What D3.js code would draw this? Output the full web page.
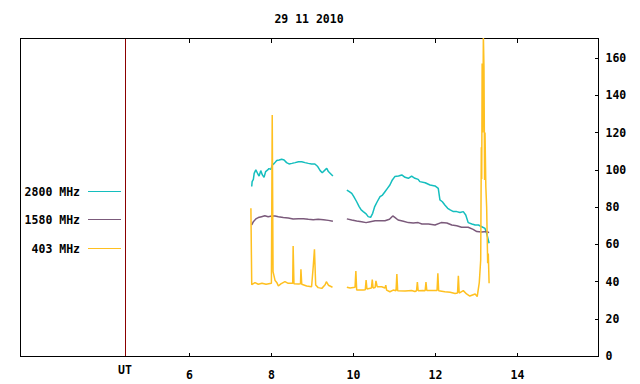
<!DOCTYPE html>
<html>
<head>
<meta charset="utf-8">
<script src="https://cdn.jsdelivr.net/npm/d3@7"></script>
<style>
  body { margin: 0; background: #fff; }
  text { font-family: "DejaVu Sans Mono", "Liberation Mono", monospace; font-weight: bold; font-size: 11.5px; fill: #000; }
</style>
</head>
<body>
<script>
// Chart data (time in UT hours)
const title = "29 11 2010";
const seriesNames = ["2800 MHz", "1580 MHz", "403 MHz"];
const xTicks = [6, 8, 10, 12, 14];
const yTicks = [0, 20, 40, 60, 80, 100, 120, 140, 160];
const utMark = 4.44;

// 2800 MHz
const t2800 = [7.53,7.54,7.57,7.59,7.63,7.68,7.71,7.75,7.79,7.83,7.87,7.92,7.95,8.00,8.03,8.08,8.14,8.20,8.26,8.32,8.38,8.44,8.51,8.59,8.67,8.75,8.83,8.91,8.99,9.07,9.14,9.20,9.25,9.32,9.36,9.40,9.46,9.51,
  9.68,
  9.85,9.91,9.97,10.02,10.09,10.15,10.20,10.25,10.32,10.37,10.43,10.48,10.53,10.59,10.66,10.72,10.78,10.84,10.90,10.96,11.02,11.11,11.19,11.27,11.35,11.43,11.51,11.59,11.63,11.76,11.88,12.00,12.08,12.12,12.18,12.24,12.31,12.37,12.45,12.53,12.61,12.69,12.75,12.81,12.90,12.98,13.06,13.14,13.22,13.26,13.30,13.32];
const v2800 = [91,93.6,94.8,98,99.9,97.7,96.6,99.5,97.2,95.9,99,99.9,100.6,100.2,102.5,103.4,104.9,105.2,105.6,105.2,103.8,103.1,103.4,103.8,104.3,104.3,103.8,103.4,103.1,103.1,101.7,99.5,98.4,99.9,100.8,99,97.7,96.6,
  null,
  89.1,88.2,87.3,85.5,82.8,80.2,78.4,77.5,76.3,74.8,74.4,76.6,80.2,82.8,85.5,86.4,88.2,90,91.8,94.5,96.3,96.6,97.2,95.9,95.4,96.6,95.4,94.8,93.6,93,91.8,91.3,90,83.8,82.8,81.1,79.3,78.4,77.5,77.5,77,77.5,75.7,71.6,70.9,70.3,70.3,69.4,68.5,65.9,62.3,60.5];

// 1580 MHz
const t1580 = [7.53,7.57,7.63,7.69,7.77,7.85,7.93,8.02,8.10,8.18,8.30,8.42,8.54,8.67,8.79,8.91,9.03,9.15,9.28,9.40,9.51,
  9.68,
  9.85,9.97,10.09,10.21,10.32,10.42,10.54,10.66,10.78,10.89,10.97,11.02,11.10,11.23,11.35,11.47,11.59,11.68,11.84,12.00,12.15,12.29,12.41,12.53,12.65,12.81,12.93,13.02,13.14,13.26,13.32];
const v1580 = [70.3,72.1,73.6,74.3,74.8,75.3,74.8,75.2,75.2,74.8,74.4,74.1,73.6,73.7,73.7,73.4,73.2,73.4,73.2,72.8,72.3,
  null,
  73.6,73,72.5,72.1,71.6,72.1,72.6,72.6,72.6,73.4,75.2,74.4,73,72.3,71.6,71.4,71.6,70.9,70.8,70.3,71.6,71.4,70.3,69.9,69.1,69.1,68,66.8,66.6,66.8,66.2];

// 403 MHz
const t403 = [7.51,7.53,7.61,7.69,7.78,7.88,8.01,8.03,8.05,8.10,8.14,8.18,8.24,8.34,8.42,8.53,8.54,8.56,8.67,8.72,8.73,8.75,8.87,8.99,9.03,9.06,9.09,9.15,9.24,9.32,9.35,9.40,9.50,
  9.68,
  9.85,9.93,10.05,10.07,10.09,10.25,10.30,10.32,10.34,10.45,10.47,10.49,10.54,10.56,10.59,10.70,10.78,10.80,10.82,10.90,10.98,11.05,11.07,11.09,11.27,11.43,11.51,11.55,11.57,11.59,11.70,11.76,11.78,11.80,11.96,12.05,12.07,12.09,12.24,12.37,12.49,12.55,12.57,12.59,12.69,12.77,12.85,12.98,13.03,13.08,13.115,13.13,13.14,13.15,13.165,13.18,13.195,13.21,13.22,13.24,13.26,13.285,13.30,13.32];
const v403 = [79.3,38.3,39.4,38.5,39,38.5,39,129.4,45.3,40.5,39.5,37.6,38.7,39.9,39,39,59,38.8,38.6,38.8,46.6,38.5,37.6,37.2,48,57.3,38.1,36.7,36.3,38.2,39.9,38,36.9,
  null,
  36.9,36.5,36.9,45.6,35.4,35.4,35.6,40.8,36,36.5,41,36.5,36.8,40.3,37.2,37.2,36.5,38,35.4,34.5,35.4,35,44,35,34.9,35.2,34.6,35,39.7,35,35.2,35,39.7,35.2,35.2,35.2,44.4,35,34.5,34.2,33.6,33.8,43,33.8,35.1,33.3,32.2,33.3,31.9,39.4,51.5,112,95,157,120,172,155,94.5,120,91,80,49.8,55,39];

const colors = ["#14bebe", "#7b5a7b", "#ffc020"];

// Layout
const W = 640, H = 384;
const mLeft = 20, mRight = 598, mTop = 38, mBottom = 356;

const x = d3.scaleLinear().domain([1.878, 15.976]).range([mLeft, mRight]);
const y = d3.scaleLinear().domain([0, 170.7]).range([mBottom, mTop]);

const svg = d3.select("body").append("svg")
  .attr("width", W)
  .attr("height", H);

// title
svg.append("text")
  .attr("x", (mLeft + mRight) / 2)
  .attr("y", 23)
  .attr("text-anchor", "middle")
  .text(title);

// clip so the big burst stops at the frame
svg.append("clipPath").attr("id", "plotclip")
  .append("rect")
  .attr("x", mLeft).attr("y", mTop)
  .attr("width", mRight - mLeft).attr("height", mBottom - mTop);

// UT marker line
svg.append("line")
  .attr("x1", Math.round(x(utMark)) + 0.5).attr("x2", Math.round(x(utMark)) + 0.5)
  .attr("y1", mTop).attr("y2", mBottom)
  .attr("stroke", "#8b0000");

svg.append("text")
  .attr("x", x(utMark))
  .attr("y", 374)
  .attr("text-anchor", "middle")
  .text("UT");

// axes: bottom with labels, top mirrored ticks, right value axis
const xAxis = d3.axisBottom(x).tickValues(xTicks).tickSize(-4).tickPadding(14).tickFormat(d3.format("d"));
svg.append("g")
  .attr("transform", "translate(0," + (mBottom + 0.5) + ")")
  .call(xAxis);

svg.append("g")
  .attr("transform", "translate(0," + (mTop + 0.5) + ")")
  .call(d3.axisTop(x).tickValues(xTicks).tickSize(-4).tickFormat(""));

svg.append("g")
  .attr("transform", "translate(" + (mRight + 0.5) + ",0)")
  .call(d3.axisRight(y).tickValues(yTicks).tickSize(-4).tickPadding(7));

svg.selectAll(".domain").remove();
svg.selectAll(".tick line").attr("stroke", "#000").attr("shape-rendering", "crispEdges");
svg.selectAll("g").attr("font-family", null).attr("font-size", null);

// frame
svg.append("rect")
  .attr("x", mLeft + 0.5).attr("y", mTop + 0.5)
  .attr("width", mRight - mLeft).attr("height", mBottom - mTop)
  .attr("fill", "none")
  .attr("stroke", "#000")
  .attr("shape-rendering", "crispEdges");

// series lines
const series = [
  { name: seriesNames[0], t: t2800, v: v2800 },
  { name: seriesNames[1], t: t1580, v: v1580 },
  { name: seriesNames[2], t: t403, v: v403 }
];

const line = d3.line()
  .defined(d => d.v != null)
  .x(d => x(d.t))
  .y(d => y(d.v));

svg.append("g")
  .attr("clip-path", "url(#plotclip)")
  .selectAll("path")
  .data(series)
  .enter()
  .append("path")
  .attr("fill", "none")
  .attr("stroke", (d, i) => colors[i])
  .attr("stroke-width", 1.5)
  .attr("stroke-linejoin", "bevel")
  .attr("d", d => line(d.t.map((t, i) => ({ t: t, v: d.v[i] }))));

// legend
const legendY = [191.5, 219.5, 248.5];
const lg = svg.append("g");
series.forEach(function (s, i) {
  lg.append("text")
    .attr("x", 80)
    .attr("y", legendY[i])
    .attr("dy", "0.35em")
    .attr("text-anchor", "end")
    .text(s.name);
  lg.append("line")
    .attr("x1", 88).attr("x2", 121)
    .attr("y1", legendY[i]).attr("y2", legendY[i])
    .attr("stroke", colors[i])
    .attr("stroke-width", 1.2);
});
</script>
</body>
</html>
